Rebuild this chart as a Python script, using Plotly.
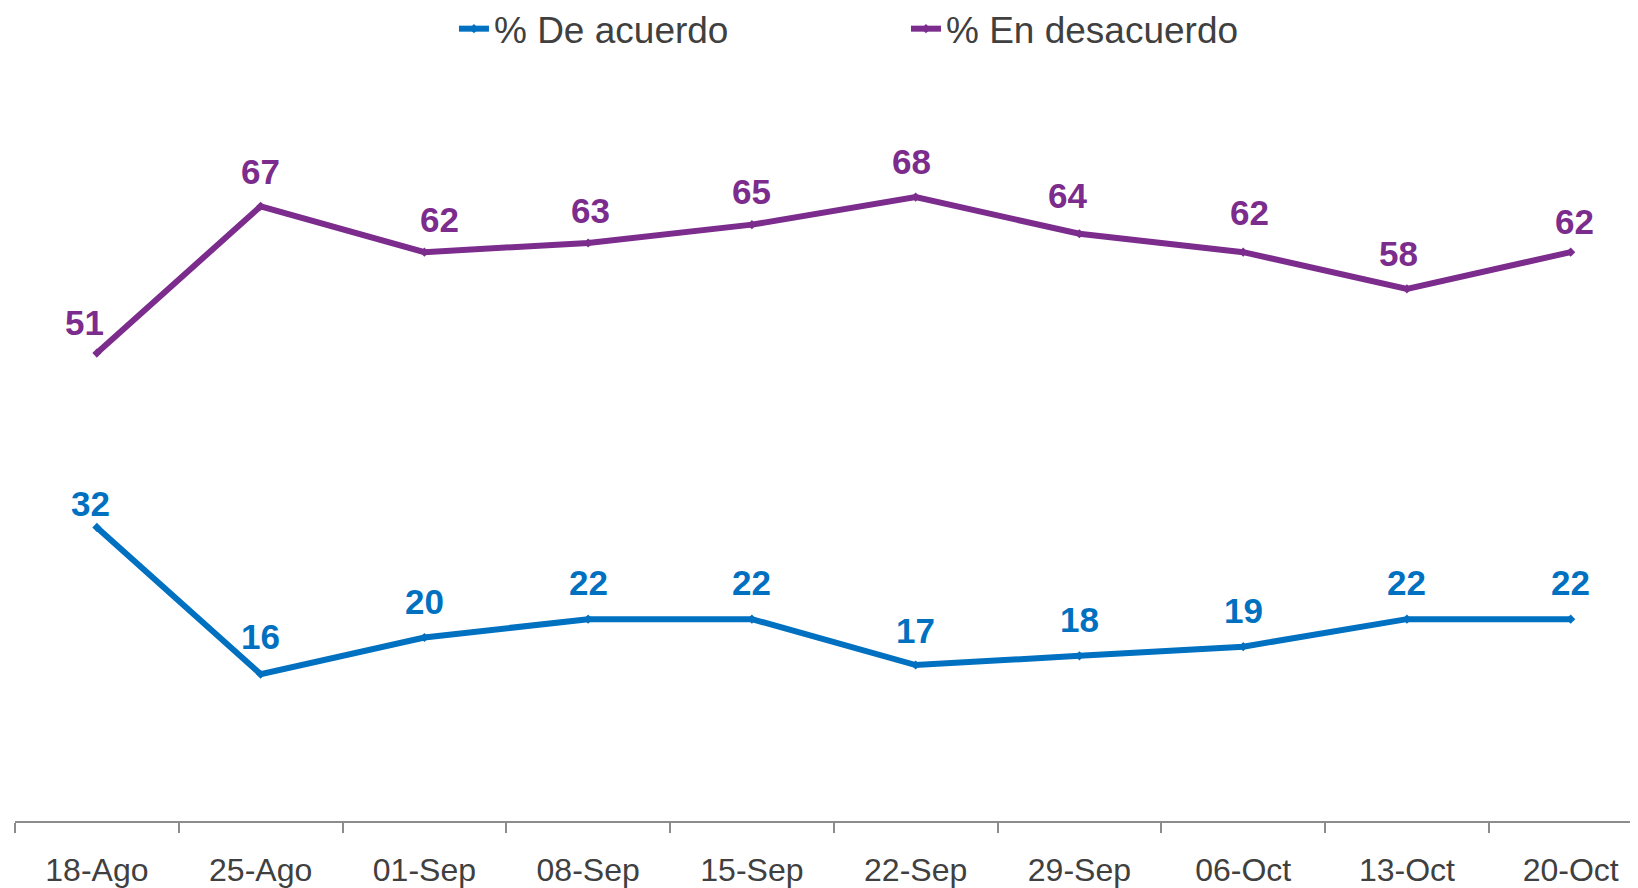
import plotly.graph_objects as go

categories = ["18-Ago", "25-Ago", "01-Sep", "08-Sep", "15-Sep", "22-Sep", "29-Sep", "06-Oct", "13-Oct", "20-Oct"]
de_acuerdo = [32, 16, 20, 22, 22, 17, 18, 19, 22, 22]
en_desacuerdo = [51, 67, 62, 63, 65, 68, 64, 62, 58, 62]

BLUE = "#0070C0"
PURPLE = "#7B2C8C"
FONT = "Arial, Liberation Sans, sans-serif"

# label offsets (style only)
blue_dx = [-6, 0, 0, 0, 0, 0, 0, 0, 0, 0]
blue_dy = [24, 38, 36, 37, 37, 35, 36, 36, 37, 37]
purple_dx = [-12, 0, 15, 2, 0, -4, -12, 6, -8, 4]
purple_dy = [31, 35, 33, 32, 33, 36, 38, 40, 35, 31]

fig = go.Figure()
fig.add_trace(go.Scatter(
    x=categories, y=de_acuerdo, name="% De acuerdo", mode="lines+markers",
    line=dict(color=BLUE, width=6), marker=dict(symbol="diamond", size=7, color=BLUE)))
fig.add_trace(go.Scatter(
    x=categories, y=en_desacuerdo, name="% En desacuerdo", mode="lines+markers",
    line=dict(color=PURPLE, width=6), marker=dict(symbol="diamond", size=7, color=PURPLE)))

annotations = []
for i, c in enumerate(categories):
    annotations.append(dict(x=c, y=de_acuerdo[i], text=f"<b>{de_acuerdo[i]}</b>", showarrow=False,
                            xshift=blue_dx[i], yshift=blue_dy[i], yanchor="middle",
                            font=dict(family=FONT, size=35, color=BLUE)))
    annotations.append(dict(x=c, y=en_desacuerdo[i], text=f"<b>{en_desacuerdo[i]}</b>", showarrow=False,
                            xshift=purple_dx[i], yshift=purple_dy[i], yanchor="middle",
                            font=dict(family=FONT, size=35, color=PURPLE)))

fig.update_layout(
    width=1630, height=880,
    margin=dict(l=7, r=0, t=79, b=65),
    plot_bgcolor="white", paper_bgcolor="white",
    font=dict(family=FONT, color="#404040"),
    annotations=annotations,
    showlegend=True,
    legend=dict(orientation="h", xref="container", yref="container",
                x=0.2736, xanchor="left", y=0.976, yanchor="middle",
                entrywidth=407, entrywidthmode="pixels",
                font=dict(family=FONT, size=37, color="#404040"),
                bgcolor="rgba(0,0,0,0)"),
    xaxis=dict(type="category", range=[-0.5, 9.411], showline=True, linecolor="#8C8C8C", linewidth=2,
               ticks="outside", tickson="boundaries", ticklen=10, tickcolor="#8C8C8C", tickwidth=1.5,
               tickfont=dict(family=FONT, size=32, color="#404040"), ticklabelstandoff=20,
               showgrid=False, zeroline=False),
    yaxis=dict(range=[0, 80], visible=False, showgrid=False, zeroline=False),
)

fig.write_html("out.html")
